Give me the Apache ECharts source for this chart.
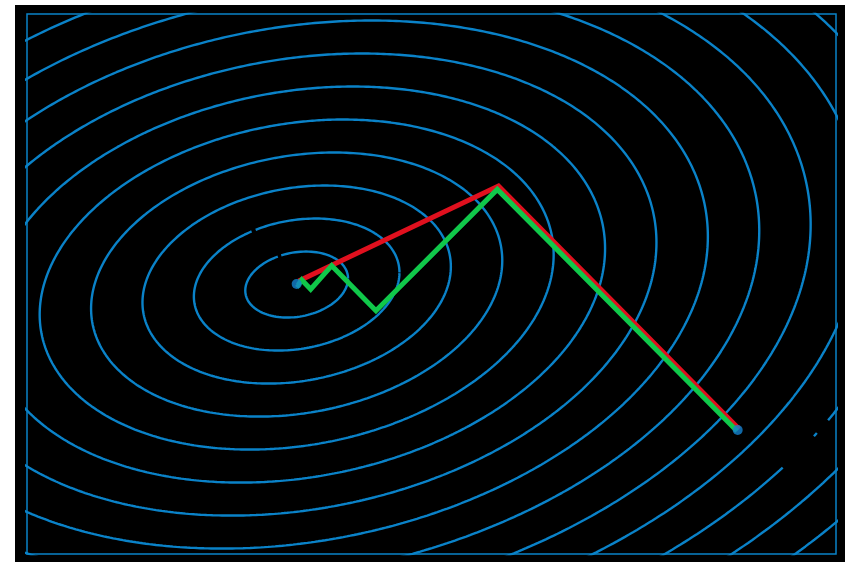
<!DOCTYPE html>
<html>
<head>
<meta charset="utf-8">
<script src="https://cdn.jsdelivr.net/npm/echarts@6/dist/echarts.min.js"></script>
<style>
html,body{margin:0;padding:0;background:#fff;}
#chart{width:851px;height:562px;}
</style>
</head>
<body>
<div id="chart"></div>
<script>
// Axis ranges (data units)
const xRange = [-3, 3];
const yRange = [-2, 2];

// Contour levels of the quadratic (ellipses centred on the minimum)
const contourLevels = [1, 2, 3, 4, 5, 6, 7, 8, 9, 10, 11, 12, 13, 14, 15];
const contourCenter = [-1.0, -0.004];
// Ellipse basis per unit level: [[a, 0], [b, c]]
const contourBasis = [[0.3812, 0.0], [0.04445, 0.2404]];

// Small breaks seen in some contour lines: level, x, y, radius (data units)
const gapLevel = [1, 2, 12, 12];
const gapX = [-1.131, -1.324, 2.715, 2.900];
const gapY = [0.218, 0.411, -1.241, -1.056];
const gapHalf = [0.017, 0.02, 0.145, 0.035];

// Conjugate gradient path (red)
const redX = [2.281, 0.497, -0.985];
const redY = [-1.074, 0.726, 0.022];

// Gradient descent path (green)
const greenX = [2.266, 0.488, -0.412, -0.740, -0.896, -0.962, -0.990, -1.0];
const greenY = [-1.089, 0.701, -0.198, 0.136, -0.039, 0.030, -0.008, 0.0];

// End points (blue dots)
const dotX = [-1.0, 2.271];
const dotY = [0.0, -1.081];

const contourColor = '#0a82c8';

function inGap(level, p) {
  for (let g = 0; g < gapLevel.length; g++) {
    if (gapLevel[g] !== level) continue;
    const dx = p[0] - gapX[g], dy = p[1] - gapY[g];
    if (Math.sqrt(dx * dx + dy * dy) < gapHalf[g]) return true;
  }
  return false;
}

function ellipse(level) {
  const pts = [];
  const N = 720;
  for (let i = 0; i <= N; i++) {
    const t = 2 * Math.PI * i / N;
    const u = Math.cos(t), v = Math.sin(t);
    const p = [
      contourCenter[0] + level * (contourBasis[0][0] * u + contourBasis[0][1] * v),
      contourCenter[1] + level * (contourBasis[1][0] * u + contourBasis[1][1] * v)
    ];
    pts.push(inGap(level, p) ? ['-', '-'] : p);
  }
  return pts;
}

const series = [];
contourLevels.forEach(function (lv) {
  series.push({
    type: 'line', data: ellipse(lv), showSymbol: false, symbol: 'none', connectNulls: false,
    lineStyle: { color: contourColor, width: 2.4 }, silent: true, clip: true, z: 2,
    animation: false
  });
});
series.push({
  type: 'line', data: redX.map(function (x, i) { return [x, redY[i]]; }),
  showSymbol: false, symbol: 'none',
  lineStyle: { color: '#e0101e', width: 5, join: 'miter' }, z: 3, animation: false
});
series.push({
  type: 'line', data: greenX.map(function (x, i) { return [x, greenY[i]]; }),
  showSymbol: false, symbol: 'none',
  lineStyle: { color: '#10c84a', width: 5, join: 'miter' }, z: 4, animation: false
});
series.push({
  type: 'scatter', data: dotX.map(function (x, i) { return [x, dotY[i]]; }),
  symbolSize: 10, itemStyle: { color: '#1482d0' }, z: 5, animation: false
});

const chart = echarts.init(document.getElementById('chart'), null, { renderer: 'canvas' });
chart.setOption({
  backgroundColor: '#ffffff',
  animation: false,
  graphic: [{
    type: 'rect', shape: { x: 15, y: 5, width: 830, height: 560 },
    style: { fill: '#000000' }, z: -10, silent: true
  }],
  grid: {
    left: 27, top: 14, width: 809, height: 540,
    show: true, borderColor: contourColor, borderWidth: 1.5, backgroundColor: 'transparent', z: 10
  },
  xAxis: {
    type: 'value', min: xRange[0], max: xRange[1],
    axisLine: { show: false }, axisTick: { show: false }, axisLabel: { show: false }, splitLine: { show: false }
  },
  yAxis: {
    type: 'value', min: yRange[0], max: yRange[1],
    axisLine: { show: false }, axisTick: { show: false }, axisLabel: { show: false }, splitLine: { show: false }
  },
  series: series
});
</script>
</body>
</html>
